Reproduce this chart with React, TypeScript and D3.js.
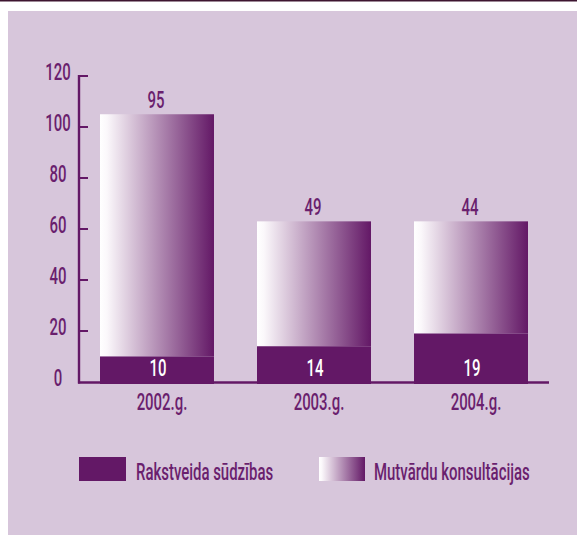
import React from "react";
import * as d3 from "d3";

const years = ["2002.g.", "2003.g.", "2004.g."];
const written = [10, 14, 19];
const oral = [95, 49, 44];
const yTicks = [0, 20, 40, 60, 80, 100, 120];
const legendLabels = ["Rakstveida sūdzības", "Mutvārdu konsultācijas"];

const W = 577;
const H = 535;
const PURPLE = "#631866";
const TEXT = "#6a1f6e";
const BG = "#d7c6db";
const FONT = "Roboto, 'DejaVu Sans', sans-serif";
const SX = 0.65;

function T({ x, y, anchor = "middle", fill = TEXT, size = 23, children }: any) {
  return (
    <text
      transform={`translate(${x},${y}) scale(${SX},1)`}
      textAnchor={anchor}
      fill={fill}
      fontSize={size}
      fontWeight={500}
      fontFamily={FONT}
    >
      {children}
    </text>
  );
}

export default function App() {
  const y = d3.scaleLinear().domain([0, 120]).range([382, 76]);
  const x = d3.scaleBand<string>().domain(years).range([100, 528]).paddingInner(0.274).paddingOuter(0);
  const bw = x.bandwidth();
  const axisX = 79;

  return (
    <svg
      width={W}
      height={H}
      style={{ position: "absolute", left: 0, top: 0, display: "block" }}
    >
      <defs>
        <linearGradient id="grad" x1="0" x2="1" y1="0" y2="0">
          <stop offset="0" stopColor="#ffffff" />
          <stop offset="0.06" stopColor="#fbf8fb" />
          <stop offset="1" stopColor={PURPLE} />
        </linearGradient>
      </defs>
      <rect x={0} y={0} width={W} height={H} fill="#ffffff" />
      <rect x={0} y={0} width={W} height={1.5} fill="#3d1530" />
      <rect x={8} y={11} width={W - 8} height={H - 11} fill={BG} />

      {years.map((yr, i) => {
        const x0 = x(yr)!;
        const v1 = written[i];
        const v2 = oral[i];
        return (
          <g key={yr}>
            <rect x={x0} y={y(v1 + v2)} width={bw} height={y(v1) - y(v1 + v2)} fill="url(#grad)" />
            <rect x={x0} y={y(v1)} width={bw} height={y(0) - y(v1) + 2} fill={PURPLE} />
            <T x={x0 + bw / 2 - 1} y={y(v1 + v2) - 6}>{v2}</T>
            <T x={x0 + bw / 2 + 1} y={y(0) - 6} fill="#ffffff">{v1}</T>
            <T x={x0 + bw / 2 + 5} y={410}>{yr}</T>
          </g>
        );
      })}

      <line x1={axisX} x2={axisX} y1={y(120) - 1} y2={y(0) + 1.5} stroke={PURPLE} strokeWidth={2.4} />
      <line x1={axisX - 1} x2={549} y1={y(0) + 0.5} y2={y(0) + 0.5} stroke={PURPLE} strokeWidth={2.6} />
      {yTicks.map((t) => (
        <g key={t}>
          {t > 0 && (
            <line x1={axisX} x2={88} y1={y(t)} y2={y(t)} stroke={PURPLE} strokeWidth={2} />
          )}
          <T x={58} y={y(t) + 4}>{t}</T>
        </g>
      ))}

      <rect x={79} y={457} width={47} height={24} fill={PURPLE} />
      <T x={136} y={480} anchor="start">{legendLabels[0]}</T>
      <rect x={319} y={457} width={46} height={24} fill="url(#grad)" />
      <T x={374} y={480} anchor="start">{legendLabels[1]}</T>
    </svg>
  );
}
